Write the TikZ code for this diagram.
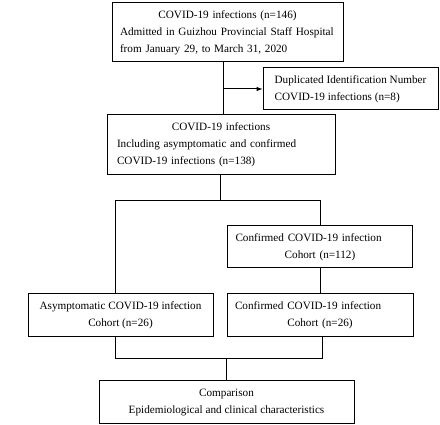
\documentclass[tikz,border=0pt]{standalone}
\usepackage{fontspec}
\setmainfont{Liberation Serif}[Scale=1.12]
\linespread{1.4167}
\usepackage{tikz}
\usetikzlibrary{arrows}
\tikzstyle{flowbox}=[draw,line width=1pt,inner xsep=8pt,inner ysep=0pt]

\begin{document}
\begin{tikzpicture}[x=1pt,y=-1pt,line width=1pt]
\useasboundingbox (0,0) rectangle (440,425);

\node [flowbox, text width=215pt, align=left, minimum height=59pt] (total) at (227.5,32.5)
  {\makebox[\linewidth]{COVID-19 infections (n=146)}\\
   Admitted in Guizhou Provincial Staff Hospital\\
   from January 29, to March 31, 2020};
\node [flowbox, align=left, minimum width=175pt, minimum height=42pt] (dup) at (350.5,89)
  {Duplicated Identification Number\\COVID-19 infections (n=8)};
\node [flowbox, text width=208pt, inner xsep=10pt, align=left, minimum height=60pt] (all) at (221,145)
  {\makebox[\linewidth]{COVID-19 infections}\\
   Including asymptomatic and confirmed\\
   COVID-19 infections (n=138)};
\node [flowbox, text width=169pt, align=left, minimum height=42pt] (conf) at (320,247)
  {Confirmed COVID-19 infection\\\makebox[\linewidth]{Cohort (n=112)}};
\node [flowbox, align=center, minimum width=185pt, minimum height=43pt] (asym) at (120.5,315)
  {Asymptomatic COVID-19 infection\\Cohort (n=26)};
\node [flowbox, text width=170pt, align=left, minimum height=43pt] (match) at (320,315)
  {Confirmed COVID-19 infection\\\makebox[\linewidth]{Cohort (n=26)}};
\node [flowbox, align=center, minimum width=255pt, minimum height=43pt] (comp) at (226.5,402.5)
  {Comparison\\Epidemiological and clinical characteristics};

% exclusion branch
\coordinate (split) at (223,89);
\draw (split |- total.south) -- (split |- all.north);
\draw [-latex] (split) -- (dup.west);

% split into cohorts
\coordinate (fork) at (220,201);
\coordinate (forkL) at (115,201);
\draw (all.south -| fork) -- (fork);
\draw (asym.north -| forkL) -- (forkL) -- (forkL -| conf.north) -- (conf.north);
\draw (conf.south) -- (match.north);

% join for comparison
\coordinate (joinL) at (115,359);
\coordinate (joinR) at (322,359);
\draw (asym.south -| joinL) -- (joinL) -- (joinR) -- (match.south -| joinR);
\draw (joinL -| comp.north) -- (comp.north);
\end{tikzpicture}
\end{document}
